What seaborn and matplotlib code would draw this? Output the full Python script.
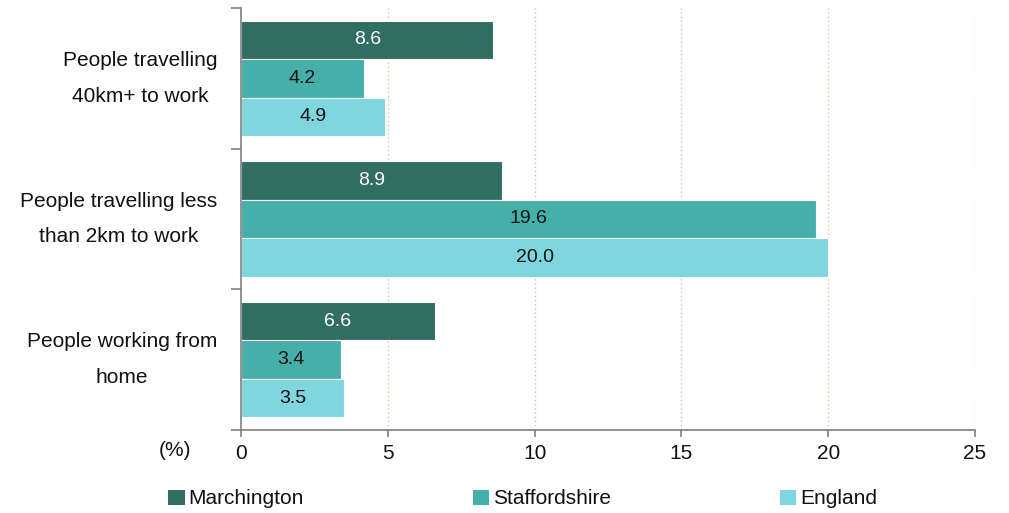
import matplotlib
matplotlib.use("Agg")
import matplotlib.pyplot as plt
import matplotlib.patches as mpatches
import seaborn as sns
import pandas as pd

categories = ["People travelling\n40km+ to work",
              "People travelling less\nthan 2km to work",
              "People working from\nhome"]
areas = ["Marchington", "Staffordshire", "England"]
marchington = [8.6, 8.9, 6.6]
staffordshire = [4.2, 19.6, 3.4]
england = [4.9, 20.0, 3.5]
colors = ["#316e62", "#46afa9", "#7fd6de"]
label_colors = ["white", "#111111", "#111111"]

df = pd.DataFrame({
    "category": categories * 3,
    "area": [a for a in areas for _ in categories],
    "value": marchington + staffordshire + england,
})

sns.set_theme(style="white")
plt.rcParams["font.family"] = ["Liberation Sans", "DejaVu Sans"]
plt.rcParams["text.color"] = "#111111"

fig = plt.figure(figsize=(10.09, 5.13), dpi=100)
ax = fig.add_axes([0.2388, 0.1618, 0.7275, 0.8226])

sns.barplot(data=df, y="category", x="value", hue="area", order=categories,
            hue_order=areas, palette=colors, orient="h", width=0.82,
            edgecolor="white", linewidth=0.8, saturation=1, legend=False, ax=ax)

for cont, lc in zip(ax.containers, label_colors):
    ax.bar_label(cont, labels=[f"{v:.1f}" for v in cont.datavalues],
                 label_type="center", color=lc, fontsize=14)

ax.set_xlim(0, 25)
ax.set_ylim(2.5, -0.5)
ax.set_xticks([0, 5, 10, 15, 20, 25])
ax.set_xticklabels(["0", "5", "10", "15", "20", "25"], fontsize=15, color="#111111")
ax.set_yticks([-0.5, 0.5, 1.5, 2.5])
ax.set_yticklabels([])
ax.set_yticks([0, 1, 2], minor=True)
ax.set_yticklabels(categories, minor=True, fontsize=15, ha="right", va="center",
                   multialignment="center", linespacing=2.1, color="#111111")
ax.tick_params(axis="y", which="minor", length=0, pad=17)
ax.tick_params(axis="y", which="major", length=7, color="#808080", width=1.2,
               direction="out", left=True)
ax.tick_params(axis="x", length=5, color="#808080", width=1.2, direction="out",
               bottom=True, pad=5)
ax.set_xlabel("")
ax.set_ylabel("")

for x in [5, 10, 15, 20, 25]:
    ax.axvline(x, color="#c9c9a8", linestyle=(0, (1, 2)), linewidth=1, zorder=0)

for s in ["top", "right"]:
    ax.spines[s].set_visible(False)
for s in ["left", "bottom"]:
    ax.spines[s].set_color("#808080")
    ax.spines[s].set_linewidth(1.2)

fig.text(175 / 1009, 1 - 451 / 513, "(%)", fontsize=15, ha="center", va="center")

handles = [mpatches.Patch(facecolor=c, edgecolor="none", label=a)
           for c, a in zip(colors, areas)]
fig.legend(handles=handles, loc="center left", bbox_to_anchor=(168 / 1009, 1 - 499 / 513),
           ncol=3, frameon=False, fontsize=15, handlelength=0.8, handleheight=0.75,
           handletextpad=0.18, columnspacing=8.1, borderaxespad=0, borderpad=0)

fig.savefig("out.png", dpi=100)
